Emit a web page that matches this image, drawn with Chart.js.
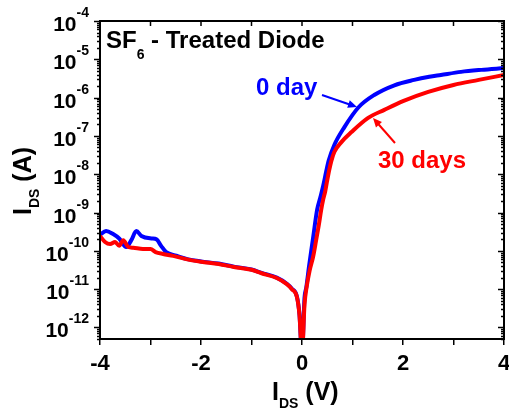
<!DOCTYPE html>
<html><head><meta charset="utf-8">
<script src="https://cdn.jsdelivr.net/npm/chart.js@4"></script>
<style>html,body{margin:0;padding:0;background:#fff;}#wrap{width:509px;height:414px;}</style>
</head><body><div id="wrap"><canvas id="c" width="509" height="414"></canvas></div>
<script>
// ---- data ----
const voltage0 = [-4.0,-3.88,-3.74,-3.62,-3.48,-3.38,-3.28,-3.18,-2.98,-2.88,-2.79,-2.69,-2.49,-2.25,-2.0,-1.65,-1.35,-1.0,-0.8,-0.5,-0.3,-0.2,-0.1,-0.05,0,0.05,0.085,0.14,0.22,0.30,0.36,0.42,0.48,0.53,0.64,0.84,1.12,1.43,1.83,2.22,2.52,2.75,3.15,3.55,4.0];
const current0 = [2.6e-10,3.3e-10,2.75e-10,2.1e-10,1.26e-10,1.9e-10,3.3e-10,2.45e-10,2.1e-10,2.0e-10,1.35e-10,9.3e-11,7.5e-11,6.0e-11,5.3e-11,4.65e-11,3.88e-11,3.27e-11,2.66e-11,2.0e-11,1.38e-11,1.03e-11,6.4e-12,2.2e-12,2e-13,6e-12,1.1e-11,4e-11,2.2e-10,1.2e-9,2.4e-9,5e-9,1.2e-8,2.3e-8,5.8e-8,1.7e-7,5.6e-7,1.17e-6,2.1e-6,2.9e-6,3.5e-6,3.9e-6,4.7e-6,5.3e-6,5.9e-6];
const voltage30 = [-4.0,-3.9,-3.8,-3.7,-3.62,-3.54,-3.44,-3.34,-3.15,-3.0,-2.9,-2.75,-2.55,-2.25,-2.0,-1.65,-1.35,-1.0,-0.8,-0.5,-0.3,-0.2,-0.1,-0.05,0,0.05,0.09,0.15,0.22,0.28,0.33,0.38,0.42,0.46,0.50,0.54,0.58,0.64,0.78,0.98,1.31,1.63,2.0,2.5,3.0,3.5,4.0];
const current30 = [2.45e-10,1.7e-10,1.5e-10,1.7e-10,1.35e-10,1.9e-10,1.26e-10,1.2e-10,1.12e-10,1.12e-10,9.3e-11,8.3e-11,7.4e-11,5.9e-11,5.2e-11,4.55e-11,3.8e-11,3.2e-11,2.6e-11,1.95e-11,1.35e-11,1.0e-11,6.2e-12,2.1e-12,2e-13,4e-12,1.1e-11,3.0e-11,7e-11,1.9e-10,4.5e-10,1.17e-9,2.2e-9,3.6e-9,7e-9,1.3e-8,2.2e-8,3.8e-8,6.9e-8,1.26e-7,2.95e-7,4.8e-7,8.1e-7,1.41e-6,2.14e-6,2.9e-6,3.9e-6];
const seriesLabels = ['0 day','30 days'];
const xTickValues = [-4,-3,-2,-1,0,1,2,3,4];
const xTickLabels = ['-4','','-2','','0','','2','','4'];
const yDecadeExponents = [-12,-11,-10,-9,-8,-7,-6,-5,-4];
const yMin = 5e-13, yMax = 1e-4;

const FONT = "'Liberation Sans', Arial, Helvetica, sans-serif";
const BLUE = '#0000ff', RED = '#ff0000';

function drawRich(ctx, x, y, parts) {
  let cx = x;
  for (const [t, size, dy] of parts) {
    ctx.font = 'bold ' + size + 'px ' + FONT;
    ctx.fillText(t, cx, y + dy);
    cx += ctx.measureText(t).width;
  }
  return cx - x;
}
function richWidth(ctx, parts) {
  let w = 0;
  for (const [t, size] of parts) { ctx.font = 'bold ' + size + 'px ' + FONT; w += ctx.measureText(t).width; }
  return w;
}
function arrow(ctx, x1, y1, x2, y2, color) {
  const a = Math.atan2(y2 - y1, x2 - x1), L = 9, W = 4;
  ctx.strokeStyle = color; ctx.fillStyle = color; ctx.lineWidth = 2;
  ctx.beginPath(); ctx.moveTo(x1, y1);
  ctx.lineTo(x2 - (L - 2) * Math.cos(a), y2 - (L - 2) * Math.sin(a)); ctx.stroke();
  ctx.beginPath(); ctx.moveTo(x2, y2);
  ctx.lineTo(x2 - L * Math.cos(a) + W * Math.sin(a), y2 - L * Math.sin(a) - W * Math.cos(a));
  ctx.lineTo(x2 - L * Math.cos(a) - W * Math.sin(a), y2 - L * Math.sin(a) + W * Math.cos(a));
  ctx.closePath(); ctx.fill();
}

const decorPlugin = {
  id: 'decor',
  afterDraw(chart) {
    const ctx = chart.ctx, a = chart.chartArea, ys = chart.scales.y, xs = chart.scales.x;
    ctx.save();
    ctx.fillStyle = '#000'; ctx.strokeStyle = '#000';
    ctx.lineWidth = 2;
    ctx.strokeRect(a.left, a.top, a.right - a.left, a.bottom - a.top);
    ctx.lineWidth = 1.5;
    for (let e = -13; e <= -4; e++) {
      for (let m = 1; m <= 9; m++) {
        const v = m * Math.pow(10, e);
        if (v < yMin || v > yMax) continue;
        const py = Math.round(ys.getPixelForValue(v)) + 0.5;
        const len = m === 1 ? 6 : 3;
        ctx.beginPath(); ctx.moveTo(a.left - len, py); ctx.lineTo(a.left, py); ctx.stroke();
        ctx.beginPath(); ctx.moveTo(a.right, py); ctx.lineTo(a.right - len, py); ctx.stroke();
      }
    }
    for (const v of xTickValues) {
      const px = xs.getPixelForValue(v);
      ctx.beginPath(); ctx.moveTo(px, a.top); ctx.lineTo(px, a.top + 5); ctx.stroke();
    }
    ctx.textBaseline = 'alphabetic';
    for (const e of yDecadeExponents) {
      const py = ys.getPixelForValue(Math.pow(10, e));
      const parts = [['10', 21, 10], [String(e), 14, -4]];
      const w = richWidth(ctx, parts);
      drawRich(ctx, 89 - w, py, parts);
    }
    drawRich(ctx, 272, 400, [['I', 25, 0], ['DS', 14, 8], [' (V)', 25, 0]]);
    ctx.save(); ctx.translate(31, 215); ctx.rotate(-Math.PI / 2);
    drawRich(ctx, 0, 0, [['I', 25, 0], ['DS', 14, 8], [' (A)', 25, 0]]);
    ctx.restore();
    drawRich(ctx, 106, 48, [['SF', 24, 0], ['6', 14, 11], [' - Treated Diode', 24, 0]]);
    ctx.fillStyle = BLUE; drawRich(ctx, 256, 95, [[seriesLabels[0], 24, 0]]);
    ctx.fillStyle = RED; drawRich(ctx, 378, 168, [[seriesLabels[1], 24, 0]]);
    arrow(ctx, 322, 95, 357, 107, BLUE);
    arrow(ctx, 395, 143, 373, 118, RED);
    ctx.restore();
  }
};

const toPts = (xs, ys) => xs.map((x, i) => ({x: x, y: ys[i]}));

new Chart(document.getElementById('c'), {
  type: 'line',
  data: {
    datasets: [
      { label: seriesLabels[1], data: toPts(voltage30, current30), borderColor: RED, borderWidth: 4, pointRadius: 0, cubicInterpolationMode: 'monotone', fill: false },
      { label: seriesLabels[0], data: toPts(voltage0, current0), borderColor: BLUE, borderWidth: 4, pointRadius: 0, cubicInterpolationMode: 'monotone', fill: false }
    ]
  },
  options: {
    responsive: false, animation: false, devicePixelRatio: 1,
    layout: { padding: { top: 21, right: 5, left: 0, bottom: 0 } },
    plugins: { legend: { display: false }, tooltip: { enabled: false } },
    scales: {
      x: {
        type: 'linear', min: -4, max: 4,
        afterBuildTicks: s => { s.ticks = xTickValues.map(v => ({ value: v })); },
        afterFit: s => { s.height = 75; s.paddingLeft = 0; s.paddingRight = 0; },
        ticks: { color: '#000', font: { family: FONT, size: 22, weight: 'bold' }, padding: 6, maxRotation: 0,
          callback: (v) => { const i = xTickValues.indexOf(v); return i >= 0 ? xTickLabels[i] : ''; } },
        grid: { drawOnChartArea: false, drawTicks: true, tickLength: 6, color: '#000', lineWidth: 1.5 },
        border: { display: false }
      },
      y: {
        type: 'logarithmic', min: yMin, max: yMax,
        afterFit: s => { s.width = 100; s.paddingTop = 0; s.paddingBottom = 0; },
        ticks: { display: false },
        grid: { display: false },
        border: { display: false }
      }
    }
  },
  plugins: [decorPlugin]
});
</script></body></html>
